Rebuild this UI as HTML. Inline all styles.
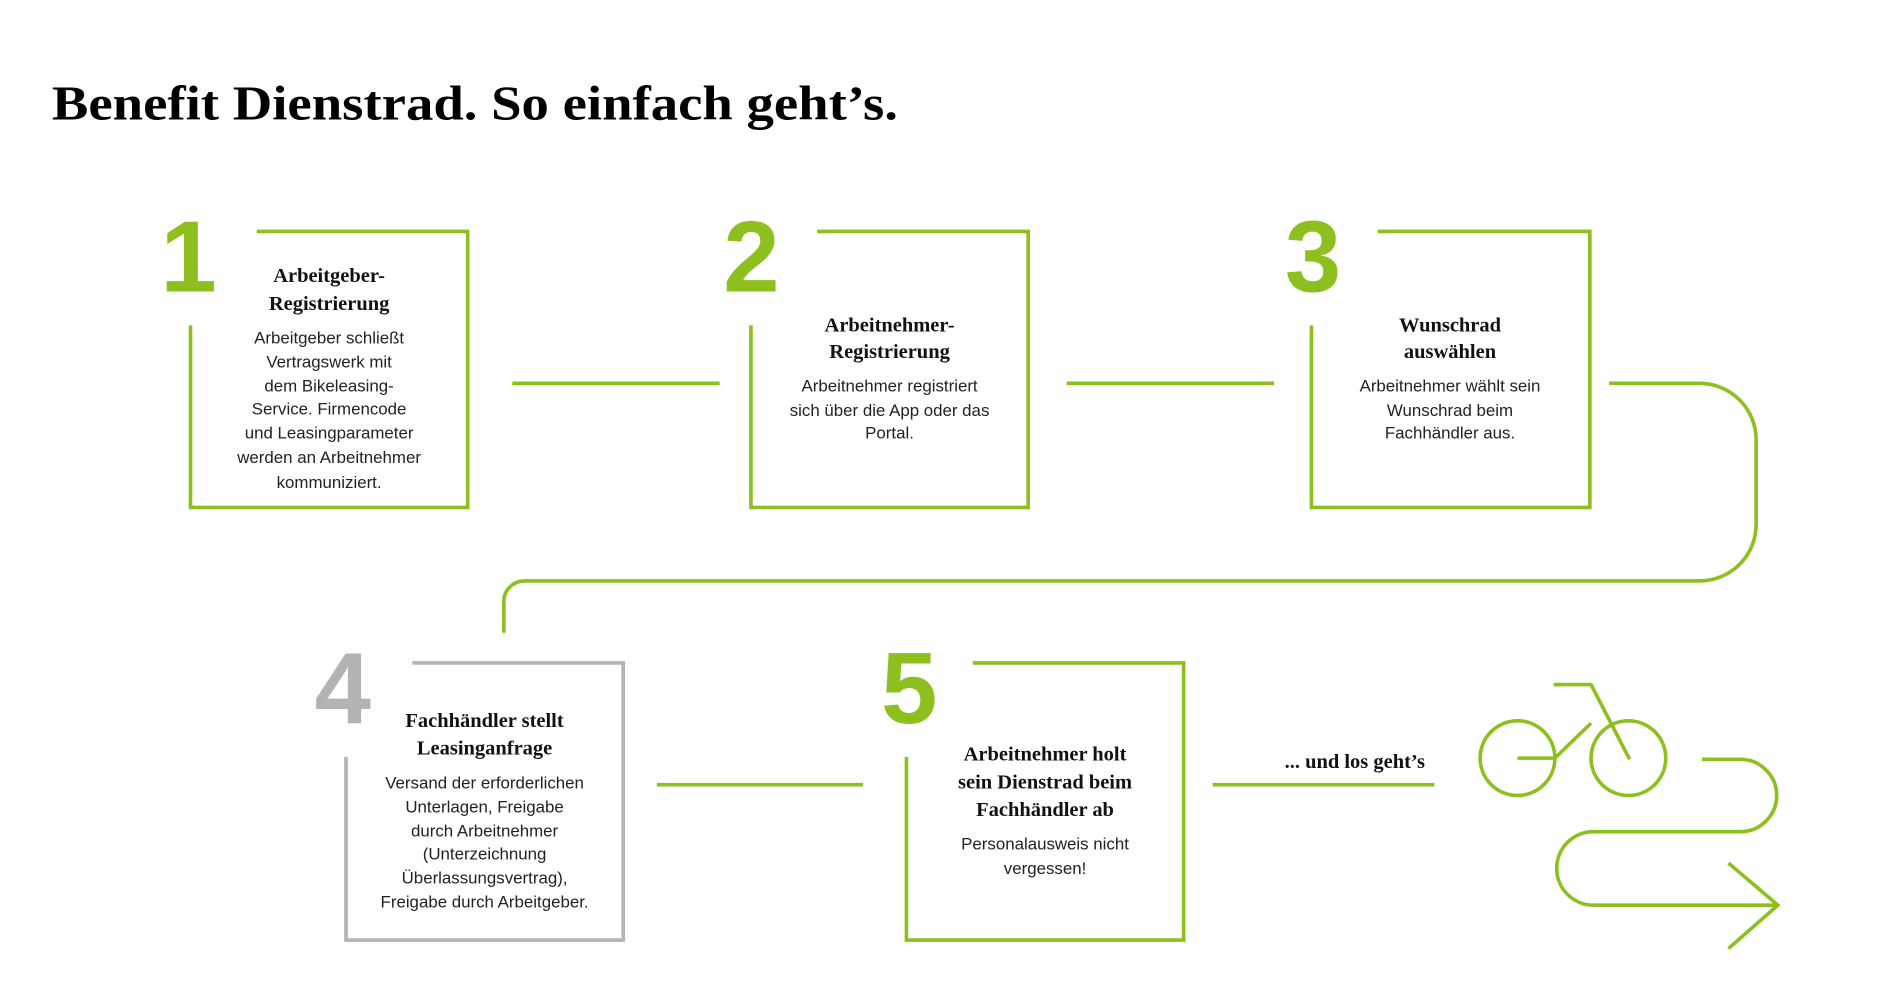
<!DOCTYPE html>
<html><head><meta charset="utf-8"><style>
html,body{margin:0;padding:0;background:#fff;}
svg{display:block;}
.h{font-family:"Liberation Serif",serif;font-weight:bold;font-size:17px;fill:#111;text-anchor:middle;}
.b{font-family:"Liberation Sans Narrow","Liberation Sans",sans-serif;font-size:14px;fill:#222;text-anchor:middle;}
.n{font-family:"Liberation Sans",sans-serif;font-weight:bold;font-size:84px;fill:#8dbf1f;}
</style></head><body>
<svg width="1890" height="1004" viewBox="0 0 1568 833" xmlns="http://www.w3.org/2000/svg">
<text x="43" y="99" font-family="Liberation Serif,serif" font-weight="bold" font-size="40" fill="#000" textLength="702" lengthAdjust="spacingAndGlyphs">Benefit Dienstrad. So einfach geht’s.</text>
<g fill="none" stroke="#8dbf1f" stroke-width="3">
<path d="M158 270V421H388V192H213"/>
<path d="M623 270V421H853V192H678"/>
<path d="M1088 270V421H1319V192H1143"/>
<path d="M752 628V780H982V550H807"/>
<path d="M425 318H597M885 318H1057M545 651H716M1006 651H1190"/>
<path d="M1335 318H1410A47 47 0 0 1 1457 365V435A47 47 0 0 1 1410 482H435A17 17 0 0 0 418 499V525"/>
<circle cx="1259" cy="629" r="31"/><circle cx="1351" cy="629" r="31"/>
<path d="M1289 568H1320L1352 630M1259 629H1290L1320 600"/>
<path d="M1412 630H1444A30 30 0 0 1 1444 690H1322A30.5 30.5 0 0 0 1322 751H1475M1434 716L1475 751L1434 787"/>
</g>
<path d="M287 628V780H517V550H342" fill="none" stroke="#b3b3b3" stroke-width="3"/>
<text class="n" x="133" y="242">1</text>
<text class="n" x="600" y="242">2</text>
<text class="n" x="1066" y="242">3</text>
<text class="n" x="261" y="600" style="fill:#b3b3b3">4</text>
<text class="n" x="731" y="600">5</text>
<text class="h" x="273" y="234">Arbeitgeber-</text><text class="h" x="273" y="257">Registrierung</text>
<text class="b" x="273" y="285">Arbeitgeber schließt</text><text class="b" x="273" y="305">Vertragswerk mit</text><text class="b" x="273" y="325">dem Bikeleasing-</text><text class="b" x="273" y="344">Service. Firmencode</text><text class="b" x="273" y="364">und Leasingparameter</text><text class="b" x="273" y="384">werden an Arbeitnehmer</text><text class="b" x="273" y="405">kommuniziert.</text>
<text class="h" x="738" y="275">Arbeitnehmer-</text><text class="h" x="738" y="297">Registrierung</text>
<text class="b" x="738" y="325">Arbeitnehmer registriert</text><text class="b" x="738" y="345">sich über die App oder das</text><text class="b" x="738" y="364">Portal.</text>
<text class="h" x="1203" y="275">Wunschrad</text><text class="h" x="1203" y="297">auswählen</text>
<text class="b" x="1203" y="325">Arbeitnehmer wählt sein</text><text class="b" x="1203" y="345">Wunschrad beim</text><text class="b" x="1203" y="364">Fachhändler aus.</text>
<text class="h" x="402" y="603">Fachhändler stellt</text><text class="h" x="402" y="626">Leasinganfrage</text>
<text class="b" x="402" y="654">Versand der erforderlichen</text><text class="b" x="402" y="674">Unterlagen, Freigabe</text><text class="b" x="402" y="694">durch Arbeitnehmer</text><text class="b" x="402" y="713">(Unterzeichnung</text><text class="b" x="402" y="733">Überlassungsvertrag),</text><text class="b" x="402" y="753">Freigabe durch Arbeitgeber.</text>
<text class="h" x="867" y="631">Arbeitnehmer holt</text><text class="h" x="867" y="654">sein Dienstrad beim</text><text class="h" x="867" y="677">Fachhändler ab</text>
<text class="b" x="867" y="705">Personalausweis nicht</text><text class="b" x="867" y="725">vergessen!</text>
<text class="h" x="1124" y="637">... und los geht’s</text>
</svg>
</body></html>
